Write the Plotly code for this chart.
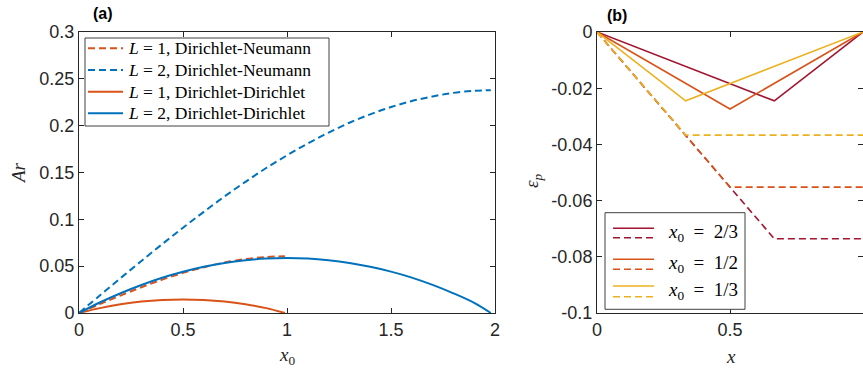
import plotly.graph_objects as go

# ---------------- data: panel (a) ----------------
x0_L1 = [0, 0.1, 0.2, 0.3, 0.4, 0.5, 0.6, 0.7, 0.8, 0.9, 0.99]
ar_dn_L1 = [0, 0.0095, 0.0187, 0.0275, 0.0356, 0.0428, 0.0489, 0.0539, 0.0575, 0.0598, 0.0605]
ar_dd_L1 = [0, 0.0052, 0.0093, 0.0122, 0.0139, 0.0145, 0.0139, 0.0122, 0.0093, 0.0052, 0.0]

x0_L2 = [0, 0.1, 0.2, 0.3, 0.4, 0.5, 0.6, 0.7, 0.8, 0.9, 1.0,
         1.1, 1.2, 1.3, 1.4, 1.5, 1.6, 1.7, 1.8, 1.9, 1.98]
ar_dn_L2 = [0, 0.0187, 0.0373, 0.0556, 0.0735, 0.0911, 0.108, 0.1245, 0.140, 0.1548, 0.1683,
            0.1810, 0.1926, 0.2031, 0.2121, 0.2199, 0.2263, 0.2312, 0.2350, 0.2373, 0.2378]
ar_dd_L2 = [0, 0.0112, 0.0211, 0.0299, 0.0376, 0.0440, 0.0493, 0.0534, 0.0563, 0.0581, 0.0587,
            0.0581, 0.0563, 0.0534, 0.0493, 0.0442, 0.0378, 0.0300, 0.0210, 0.0108, 0.0]

# ---------------- data: panel (b) ----------------
x_23 = [0, 2/3, 1]
x_12 = [0, 1/2, 1]
x_13 = [0, 1/3, 1]
ep_solid_23 = [0, -0.0245, 0]
ep_solid_12 = [0, -0.0274, 0]
ep_solid_13 = [0, -0.0245, 0]
ep_dash_23 = [0, -0.0736, -0.0736]
ep_dash_12 = [0, -0.0552, -0.0552]
ep_dash_13 = [0, -0.0367, -0.0367]

# tick labels
a_xticks = [0, 0.5, 1, 1.5, 2]
a_xticklabels = ["0", "0.5", "1", "1.5", "2"]
a_yticks = [0, 0.05, 0.1, 0.15, 0.2, 0.25, 0.3]
a_yticklabels = ["0", "0.05", "0.1", "0.15", "0.2", "0.25", "0.3"]
b_xticks = [0, 0.5, 1]
b_xticklabels = ["0", "0.5", "1"]
b_yticks = [0, -0.02, -0.04, -0.06, -0.08, -0.1]
b_yticklabels = ["0", "-0.02", "-0.04", "-0.06", "-0.08", "-0.1"]

legend_a = ["<i>L</i> = 1, Dirichlet-Neumann",
            "<i>L</i> = 2, Dirichlet-Neumann",
            "<i>L</i> = 1, Dirichlet-Dirichlet",
            "<i>L</i> = 2, Dirichlet-Dirichlet"]
legend_b = ["<i>x</i><sub>0</sub>\u2002=\u20022/3",
            "<i>x</i><sub>0</sub>\u2002=\u20021/2",
            "<i>x</i><sub>0</sub>\u2002=\u20021/3"]

# ---------------- style ----------------
BLUE = "#0072BD"
ORANGE = "#D95319"
YELLOW = "#EDB120"
DRED = "#A2142F"
AX = "#262626"
DASH = "7px,4px"
SANS = "Liberation Sans, Arial, sans-serif"
SERIF = "Liberation Serif, Times New Roman, serif"

W, H = 863, 368
ML, MR, MT, MB = 79, 0, 32, 55
PW, PH = W - ML - MR, H - MT - MB


def px(x):
    return (x - ML) / PW


def py(y):
    return (H - MB - y) / PH


fig = go.Figure()

# panel (a)
fig.add_trace(go.Scatter(x=x0_L1, y=ar_dn_L1, mode="lines", line=dict(color=ORANGE, width=2, dash=DASH, shape="spline"), xaxis="x", yaxis="y"))
fig.add_trace(go.Scatter(x=x0_L2, y=ar_dn_L2, mode="lines", line=dict(color=BLUE, width=2, dash=DASH, shape="spline"), xaxis="x", yaxis="y"))
fig.add_trace(go.Scatter(x=x0_L1, y=ar_dd_L1, mode="lines", line=dict(color=ORANGE, width=2, shape="spline"), xaxis="x", yaxis="y"))
fig.add_trace(go.Scatter(x=x0_L2, y=ar_dd_L2, mode="lines", line=dict(color=BLUE, width=2, shape="spline"), xaxis="x", yaxis="y"))

# panel (b)
for xs, ys_s, ys_d, c in [(x_23, ep_solid_23, ep_dash_23, DRED),
                          (x_12, ep_solid_12, ep_dash_12, ORANGE),
                          (x_13, ep_solid_13, ep_dash_13, YELLOW)]:
    fig.add_trace(go.Scatter(x=xs, y=ys_s, mode="lines", line=dict(color=c, width=1.6), xaxis="x2", yaxis="y2"))
    fig.add_trace(go.Scatter(x=xs, y=ys_d, mode="lines", line=dict(color=c, width=1.6, dash=DASH), xaxis="x2", yaxis="y2"))

axis_common = dict(showline=True, linecolor=AX, linewidth=1, mirror="ticks", ticks="inside",
                   ticklen=5, tickcolor=AX, tickwidth=1, showgrid=False, zeroline=False,
                   tickfont=dict(family=SANS, size=18, color=AX), automargin=False, tickmode="array")

fig.update_layout(
    width=W, height=H, margin=dict(l=ML, r=MR, t=MT, b=MB),
    paper_bgcolor="white", plot_bgcolor="white", showlegend=False,
    xaxis=dict(domain=[0, px(495)], range=[0, 2], tickvals=a_xticks, ticktext=a_xticklabels, anchor="y", **axis_common),
    yaxis=dict(domain=[0, 1], range=[0, 0.3], tickvals=a_yticks, ticktext=a_yticklabels, anchor="x", **axis_common),
    xaxis2=dict(domain=[px(597), 1], range=[0, 1], tickvals=b_xticks, ticktext=b_xticklabels, anchor="y2", **axis_common),
    yaxis2=dict(domain=[0, 1], range=[-0.1, 0], tickvals=b_yticks, ticktext=b_yticklabels, anchor="x2", **axis_common),
)

shapes = []
ann = []

# legend (a)
shapes.append(dict(type="rect", xref="paper", yref="paper", x0=px(85), x1=px(329), y0=py(126), y1=py(38),
                   line=dict(color="#404040", width=1), fillcolor="white", layer="above"))
rows_a = [48.3, 70, 91.7, 113.3]
styles_a = [(ORANGE, DASH), (BLUE, DASH), (ORANGE, "solid"), (BLUE, "solid")]
for yy, (c, d), txt in zip(rows_a, styles_a, legend_a):
    shapes.append(dict(type="line", xref="paper", yref="paper", x0=px(88), x1=px(123), y0=py(yy), y1=py(yy),
                       line=dict(color=c, width=2, dash=d), layer="above"))
    ann.append(dict(text=txt, xref="paper", yref="paper", x=px(126), y=py(yy), xanchor="left", yanchor="middle",
                    showarrow=False, font=dict(family=SERIF, size=17.5, color="#000000")))

# legend (b)
shapes.append(dict(type="rect", xref="paper", yref="paper", x0=px(605), x1=px(745), y0=py(309.3), y1=py(212.7),
                   line=dict(color="#404040", width=1), fillcolor="white", layer="above"))
rows_b = [(228.3, 237.7, 232.5), (259.3, 269.3, 264), (286, 296.7, 291)]
cols_b = [DRED, ORANGE, YELLOW]
for (ys, yd, yt), c, txt in zip(rows_b, cols_b, legend_b):
    shapes.append(dict(type="line", xref="paper", yref="paper", x0=px(613), x1=px(654), y0=py(ys), y1=py(ys),
                       line=dict(color=c, width=1.6), layer="above"))
    shapes.append(dict(type="line", xref="paper", yref="paper", x0=px(613), x1=px(654), y0=py(yd), y1=py(yd),
                       line=dict(color=c, width=1.6, dash=DASH), layer="above"))
    ann.append(dict(text=txt, xref="paper", yref="paper", x=px(666), y=py(yt), xanchor="left", yanchor="middle",
                    showarrow=False, font=dict(family=SERIF, size=19, color="#000000")))

# axis titles
ann.append(dict(text="<i>Ar</i>", xref="paper", yref="paper", x=px(18), y=py(173), textangle=-90,
                xanchor="center", yanchor="middle", showarrow=False, font=dict(family=SERIF, size=19, color=AX)))
ann.append(dict(text="<i>x</i><sub>0</sub>", xref="paper", yref="paper", x=px(287), y=py(356),
                xanchor="center", yanchor="middle", showarrow=False, font=dict(family=SERIF, size=19, color=AX)))
ann.append(dict(text="<i>ε</i><sub><i>p</i></sub>", xref="paper", yref="paper", x=px(533), y=py(181), textangle=-90,
                xanchor="center", yanchor="middle", showarrow=False, font=dict(family=SERIF, size=19, color=AX)))
ann.append(dict(text="<i>x</i>", xref="paper", yref="paper", x=px(731), y=py(356),
                xanchor="center", yanchor="middle", showarrow=False, font=dict(family=SERIF, size=19, color=AX)))

# panel labels
ann.append(dict(text="<b>(a)</b>", xref="paper", yref="paper", x=px(103), y=py(14),
                xanchor="center", yanchor="middle", showarrow=False, font=dict(family=SANS, size=16, color="#000000")))
ann.append(dict(text="<b>(b)</b>", xref="paper", yref="paper", x=px(617), y=py(15),
                xanchor="center", yanchor="middle", showarrow=False, font=dict(family=SANS, size=16, color="#000000")))

fig.update_layout(shapes=shapes, annotations=ann)
fig.write_html("out.html", config={"displayModeBar": False},
               post_script="document.body.style.margin='0px';document.body.style.overflow='hidden';")
